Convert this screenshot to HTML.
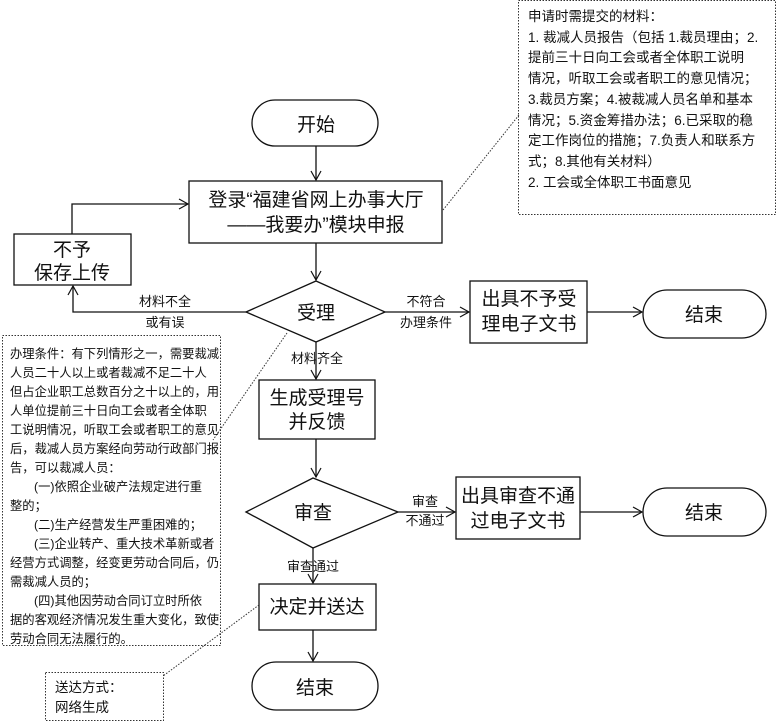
<!DOCTYPE html>
<html><head><meta charset="utf-8"><style>
body{margin:0;background:#fff;}
svg{display:block;font-family:"Liberation Sans","Noto Sans CJK SC",sans-serif;}
.t{font-size:19px;fill:#111;text-anchor:middle}
.s{font-size:13px;fill:#111;text-anchor:middle}
.n{font-size:12.3px;fill:#111}
.m{font-size:13.5px;fill:#111}
</style></head><body>
<svg width="776" height="722" viewBox="0 0 776 722">
<defs><marker id="a" markerWidth="12" markerHeight="12" refX="10" refY="6" orient="auto" markerUnits="userSpaceOnUse"><path d="M1,1 L10,6 L1,11" fill="none" stroke="#111" stroke-width="1.2"/></marker></defs>
<g fill="none" stroke="#111" stroke-width="1.3">
<rect x="252" y="100" width="126" height="46" rx="23"/>
<rect x="189" y="181" width="253" height="62"/>
<rect x="14" y="234" width="117" height="51"/>
<polygon points="246,312 316,281 385,312 316,342"/>
<rect x="470" y="281" width="117" height="62"/>
<rect x="643" y="290" width="123" height="48" rx="24"/>
<rect x="259" y="380" width="116" height="59"/>
<polygon points="246,512 313,478 398,512 313,548"/>
<rect x="456" y="477" width="124" height="62"/>
<rect x="643" y="488" width="123" height="48" rx="24"/>
<rect x="259" y="584" width="117" height="46"/>
<rect x="252" y="662" width="126" height="48" rx="24"/>
<line x1="316" y1="146" x2="316" y2="180" marker-end="url(#a)"/>
<line x1="316" y1="243" x2="316" y2="280" marker-end="url(#a)"/>
<polyline points="72,234 72,204 188,204" marker-end="url(#a)"/>
<polyline points="246,312 73,312 73,286" marker-end="url(#a)"/>
<line x1="385" y1="312" x2="469" y2="312" marker-end="url(#a)"/>
<line x1="587" y1="312" x2="642" y2="312" marker-end="url(#a)"/>
<line x1="316" y1="342" x2="316" y2="379" marker-end="url(#a)"/>
<line x1="316" y1="439" x2="316" y2="477" marker-end="url(#a)"/>
<line x1="398" y1="512" x2="455" y2="512" marker-end="url(#a)"/>
<line x1="580" y1="512" x2="642" y2="512" marker-end="url(#a)"/>
<line x1="313" y1="548" x2="313" y2="583" marker-end="url(#a)"/>
<line x1="313" y1="630" x2="313" y2="661" marker-end="url(#a)"/>
</g>
<g fill="none" stroke="#333" stroke-width="1" stroke-dasharray="1.5,1.5">
<rect x="518.5" y="0.5" width="257" height="214"/>
<rect x="2.5" y="335.5" width="218" height="310"/>
<rect x="45.5" y="672.5" width="118" height="48"/>
<line x1="443" y1="210" x2="519" y2="115"/>
<line x1="287" y1="333" x2="213" y2="440"/>
<line x1="259" y1="605" x2="163" y2="676"/>
</g>
<text class="t" x="316" y="131">开始</text>
<text class="t" x="316" y="206">登录“福建省网上办事大厅</text>
<text class="t" x="316" y="231">——我要办”模块申报</text>
<text class="t" x="72" y="256">不予</text>
<text class="t" x="72" y="279">保存上传</text>
<text class="t" x="316" y="319">受理</text>
<text class="t" x="529" y="305">出具不予受</text>
<text class="t" x="529" y="330">理电子文书</text>
<text class="t" x="704" y="321">结束</text>
<text class="t" x="317" y="404">生成受理号</text>
<text class="t" x="317" y="428">并反馈</text>
<text class="t" x="313" y="519">审查</text>
<text class="t" x="518" y="502">出具审查不通</text>
<text class="t" x="518" y="527">过电子文书</text>
<text class="t" x="704" y="519">结束</text>
<text class="t" x="317" y="613">决定并送达</text>
<text class="t" x="315" y="694">结束</text>
<text class="s" x="165" y="306">材料不全</text>
<text class="s" x="165" y="327">或有误</text>
<text class="s" x="426" y="306">不符合</text>
<text class="s" x="426" y="327">办理条件</text>
<text class="s" x="317" y="363">材料齐全</text>
<text class="s" x="425" y="506">审查</text>
<text class="s" x="425" y="525">不通过</text>
<text class="s" x="313" y="571">审查通过</text>
<g class="m">
<text x="528" y="21">申请时需提交的材料：</text>
<text x="528" y="42">1. 裁减人员报告（包括 1.裁员理由；2.</text>
<text x="528" y="62">提前三十日向工会或者全体职工说明</text>
<text x="528" y="83">情况，听取工会或者职工的意见情况；</text>
<text x="528" y="104">3.裁员方案；4.被裁减人员名单和基本</text>
<text x="528" y="125">情况；5.资金筹措办法；6.已采取的稳</text>
<text x="528" y="145">定工作岗位的措施；7.负责人和联系方</text>
<text x="528" y="166">式；8.其他有关材料）</text>
<text x="528" y="187">2. 工会或全体职工书面意见</text>
</g>
<g class="n">
<text x="10" y="358">办理条件：有下列情形之一，需要裁减</text>
<text x="10" y="377">人员二十人以上或者裁减不足二十人</text>
<text x="10" y="396">但占企业职工总数百分之十以上的，用</text>
<text x="10" y="415">人单位提前三十日向工会或者全体职</text>
<text x="10" y="434">工说明情况，听取工会或者职工的意见</text>
<text x="10" y="453">后，裁减人员方案经向劳动行政部门报</text>
<text x="10" y="472">告，可以裁减人员：</text>
<text x="34" y="491">(一)依照企业破产法规定进行重</text>
<text x="10" y="510">整的；</text>
<text x="34" y="529">(二)生产经营发生严重困难的；</text>
<text x="34" y="548">(三)企业转产、重大技术革新或者</text>
<text x="10" y="567">经营方式调整，经变更劳动合同后，仍</text>
<text x="10" y="586">需裁减人员的；</text>
<text x="34" y="605">(四)其他因劳动合同订立时所依</text>
<text x="10" y="624">据的客观经济情况发生重大变化，致使</text>
<text x="10" y="643">劳动合同无法履行的。</text>
</g>
<text class="m" x="55" y="692">送达方式：</text>
<text class="m" x="55" y="712">网络生成</text>
</svg>
</body></html>
